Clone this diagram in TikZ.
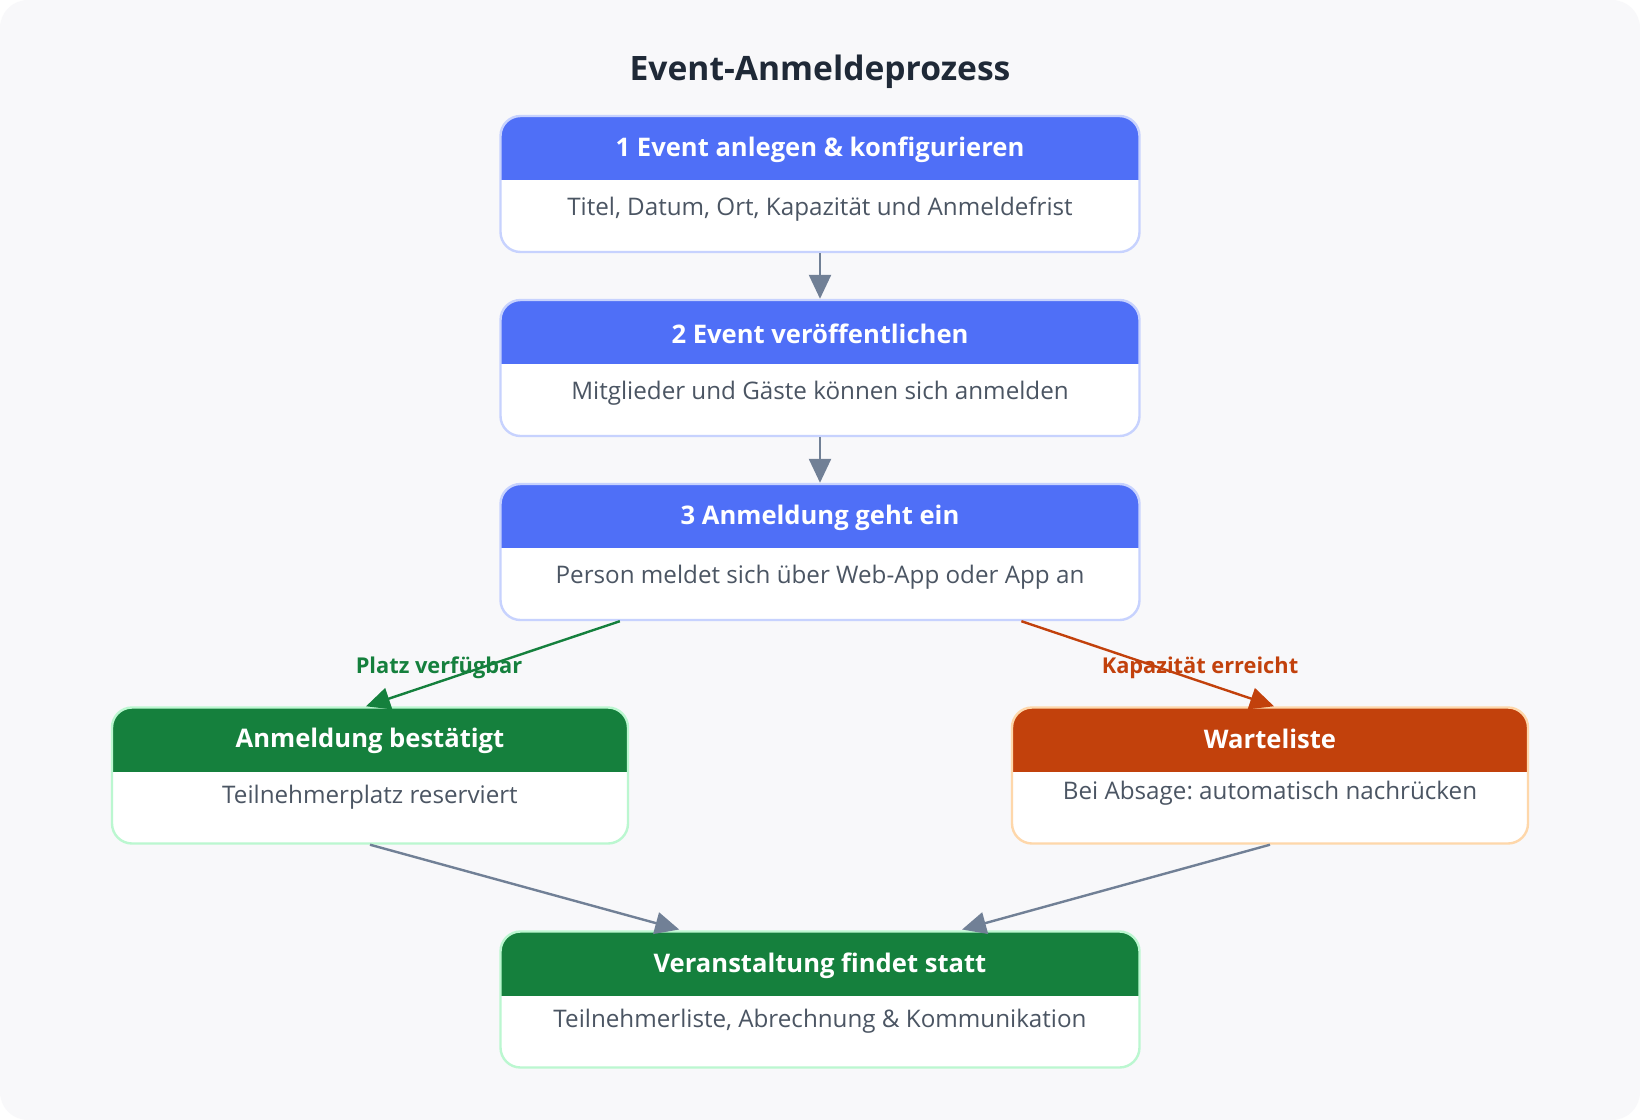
\documentclass[tikz,border=0pt]{standalone}
\usepackage{fontspec}
\setmainfont{Open Sans}
\frenchspacing
\usetikzlibrary{positioning,arrows.meta,calc}
\definecolor{cBack}{HTML}{F8F8FA}
\definecolor{cBlue}{HTML}{4F6FF7}
\definecolor{cBlueLine}{HTML}{C7D2FE}
\definecolor{cGreen}{HTML}{15803D}
\definecolor{cGreenLine}{HTML}{BBF7D0}
\definecolor{cOrange}{HTML}{C2410C}
\definecolor{cOrangeLine}{HTML}{FED7AA}
\definecolor{cText}{HTML}{4B5563}
\definecolor{cTitle}{HTML}{1F2937}
\definecolor{cArrow}{HTML}{718096}

\begin{document}
\begin{tikzpicture}[x=0.5pt,y=-0.5pt,
    stepbox/.style 2 args={draw=#2, fill=white, line width=1.2pt, rounded corners=10pt,
      minimum width=319.5pt, minimum height=68pt, inner sep=0pt,
      path picture={\fill[#1, sharp corners] (path picture bounding box.north west)
        rectangle ([yshift=-32pt]path picture bounding box.north east);}},
    sidebox/.style={minimum width=258pt},
    titletext/.style={font=\fontsize{16.8}{20}\selectfont\bfseries, text=cTitle},
    headtext/.style={font=\fontsize{12.8}{15}\selectfont\bfseries, text=white},
    bodytext/.style={font=\fontsize{12.1}{14}\selectfont, text=cText},
    labeltext/.style={font=\fontsize{10.9}{13}\selectfont\bfseries},
    flow/.style={-{Triangle[length=12pt,width=11pt]}, line width=1.2pt, draw=cArrow}]

  % background
  \fill[white] (0,0) rectangle (1640,1120);
  \fill[cBack, rounded corners=14pt] (0,0) rectangle (1640,1120);
  \useasboundingbox (0,0) rectangle (1640,1120);

  \node[titletext] (titel) at (820,72) {Event-Anmeldeprozess};

  % main column
  \node[stepbox={cBlue}{cBlueLine}] (anlegen) at (820,184) {};
    \node[headtext] (anlegenK) at ($(anlegen.north)+(0,35)$) {1 Event anlegen \& konfigurieren};
    \node[bodytext] (anlegenT) at ($(anlegen.north)+(0,94)$) {Titel, Datum, Ort, Kapazität und Anmeldefrist};
  \node[stepbox={cBlue}{cBlueLine}, below=22.8pt of anlegen] (publik) {};
    \node[headtext] (publikK) at ($(publik.north)+(0,35)$) {2 Event veröffentlichen};
    \node[bodytext] (publikT) at ($(publik.north)+(0,94)$) {Mitglieder und Gäste können sich anmelden};
  \node[stepbox={cBlue}{cBlueLine}, below=22.8pt of publik] (eingang) {};
    \node[headtext] (eingangK) at ($(eingang.north)+(0,35)$) {3 Anmeldung geht ein};
    \node[bodytext] (eingangT) at ($(eingang.north)+(0,94)$) {Person meldet sich über Web-App oder App an};

  % branches
  \node[stepbox={cGreen}{cGreenLine}, sidebox] (bestaetigt) at (370,775.5) {};
    \node[headtext] (bestaetigtK) at ($(bestaetigt.north)+(0,35)$) {Anmeldung bestätigt};
    \node[bodytext] (bestaetigtT) at ($(bestaetigt.north)+(0,91)$) {Teilnehmerplatz reserviert};
  \node[stepbox={cOrange}{cOrangeLine}, sidebox] (warte) at (1270,775.5) {};
    \node[headtext] (warteK) at ($(warte.north)+(0,33)$) {Warteliste};
    \node[bodytext] (warteT) at ($(warte.north)+(0,87)$) {Bei Absage: automatisch nachrücken};

  \node[stepbox={cGreen}{cGreenLine}] (statt) at (820,999.5) {};
    \node[headtext] (stattK) at ($(statt.north)+(0,35)$) {Veranstaltung findet statt};
    \node[bodytext] (stattT) at ($(statt.north)+(0,91)$) {Teilnehmerliste, Abrechnung \& Kommunikation};

  % connectors
  \draw[flow] (anlegen) -- (publik);
  \draw[flow] (publik) -- (eingang);
  \draw[flow, draw=cGreen] ($(eingang.south west)!0.188!(eingang.south east)$) -- ([xshift=-2pt]bestaetigt.north);
  \draw[flow, draw=cOrange] ($(eingang.south west)!0.814!(eingang.south east)$) -- ([xshift=2pt]warte.north);
  \draw[flow, shorten >=1.5pt] (bestaetigt.south) -- ($(statt.north west)!0.285!(statt.north east)$);
  \draw[flow, shorten >=1.5pt] (warte.south) -- ($(statt.north west)!0.717!(statt.north east)$);

  \node[labeltext, text=cGreen] (platz) at (439,668) {Platz verfügbar};
  \node[labeltext, text=cOrange] (voll) at (1200,668) {Kapazität erreicht};
\end{tikzpicture}
\end{document}
